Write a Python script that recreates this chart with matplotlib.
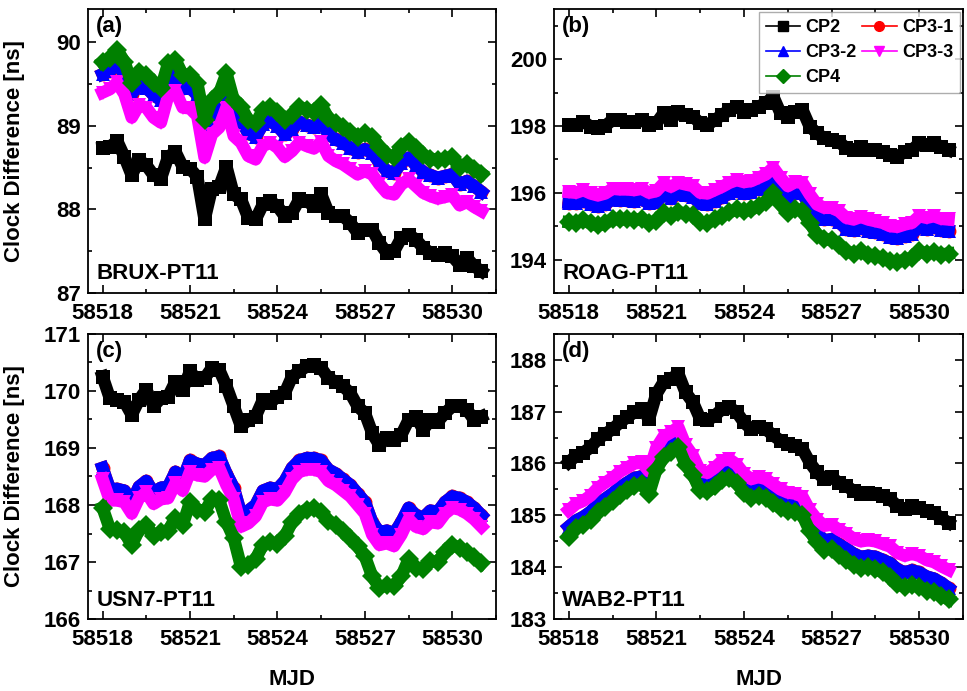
import numpy as np
import matplotlib
matplotlib.use("Agg")
import matplotlib.pyplot as plt
from matplotlib.lines import Line2D
from matplotlib.ticker import MultipleLocator

plt.rcParams['font.family'] = ['Liberation Sans', 'DejaVu Sans']
plt.rcParams['font.weight'] = 'bold'

# sample times, every 6 h
mjd = np.arange(58518, 58531.001, 0.25)

# (a) BRUX-PT11
a_cp2 = [88.74, 88.75, 88.82, 88.63, 88.41, 88.59, 88.53, 88.41, 88.37, 88.63,
         88.69, 88.51, 88.49, 88.39, 87.88, 88.25, 88.27, 88.51, 88.18, 88.12,
         87.90, 87.88, 88.06, 88.10, 88.04, 87.92, 87.96, 88.12, 88.10, 88.04,
         88.18, 87.96, 87.92, 87.92, 87.84, 87.72, 87.76, 87.76, 87.60, 87.48,
         87.50, 87.66, 87.70, 87.64, 87.54, 87.48, 87.46, 87.48, 87.44, 87.34,
         87.42, 87.32, 87.26]
a_cp32 = [89.62, 89.66, 89.74, 89.62, 89.38, 89.50, 89.46, 89.37, 89.31, 89.58,
          89.62, 89.46, 89.46, 89.37, 88.90, 89.16, 89.23, 89.45, 89.15, 89.07,
          88.91, 88.87, 89.02, 89.06, 89.00, 88.90, 88.96, 89.05, 89.01, 88.99,
          89.06, 88.90, 88.84, 88.80, 88.74, 88.69, 88.72, 88.68, 88.56, 88.46,
          88.44, 88.56, 88.62, 88.53, 88.45, 88.41, 88.38, 88.40, 88.42, 88.30,
          88.34, 88.28, 88.21]
a_cp31 = a_cp32  # red trace sits under the blue one everywhere
a_cp33 = [89.40, 89.44, 89.52, 89.38, 89.10, 89.25, 89.22, 89.10, 89.04, 89.36,
          89.42, 89.22, 89.21, 89.12, 88.62, 88.90, 88.98, 89.22, 88.88, 88.80,
          88.64, 88.60, 88.76, 88.80, 88.74, 88.63, 88.70, 88.80, 88.76, 88.73,
          88.81, 88.64, 88.58, 88.54, 88.48, 88.42, 88.46, 88.42, 88.30, 88.20,
          88.18, 88.30, 88.36, 88.28, 88.20, 88.16, 88.13, 88.15, 88.17, 88.05,
          88.09, 88.03, 87.98]
a_cp4 = [89.76, 89.81, 89.91, 89.77, 89.51, 89.65, 89.61, 89.51, 89.45, 89.75,
         89.79, 89.61, 89.61, 89.51, 89.07, 89.31, 89.39, 89.63, 89.31, 89.23,
         89.07, 89.03, 89.19, 89.23, 89.17, 89.07, 89.13, 89.23, 89.19, 89.17,
         89.25, 89.09, 89.03, 88.99, 88.93, 88.87, 88.91, 88.87, 88.75, 88.65,
         88.63, 88.75, 88.81, 88.73, 88.65, 88.61, 88.59, 88.61, 88.63, 88.51,
         88.55, 88.49, 88.43]

# (b) ROAG-PT11
b_cp2 = [198.03, 198.03, 198.13, 197.98, 197.93, 198.00, 198.18, 198.18, 198.13, 198.13,
         198.18, 198.03, 198.08, 198.38, 198.18, 198.43, 198.33, 198.28, 198.08, 198.03,
         198.18, 198.33, 198.48, 198.58, 198.43, 198.48, 198.58, 198.68, 198.88, 198.38,
         198.28, 198.43, 198.48, 197.98, 197.78, 197.63, 197.58, 197.53, 197.33, 197.28,
         197.38, 197.28, 197.28, 197.23, 197.13, 197.08, 197.23, 197.28, 197.48, 197.43,
         197.48, 197.38, 197.28]
b_cp32 = [195.70, 195.68, 195.76, 195.66, 195.60, 195.66, 195.80, 195.78, 195.78, 195.76,
          195.80, 195.68, 195.72, 195.95, 195.85, 195.97, 195.92, 195.87, 195.68, 195.66,
          195.76, 195.86, 195.98, 196.06, 196.00, 196.03, 196.12, 196.22, 196.40, 196.12,
          195.88, 196.00, 195.98, 195.62, 195.32, 195.22, 195.22, 195.12, 194.92, 194.88,
          194.95, 194.87, 194.82, 194.77, 194.67, 194.65, 194.72, 194.78, 194.97, 194.92,
          194.97, 194.90, 194.87]
b_cp31 = b_cp32
b_cp33 = [196.02, 196.00, 196.08, 195.98, 195.92, 195.98, 196.12, 196.10, 196.10, 196.08,
          196.12, 196.00, 196.05, 196.28, 196.18, 196.30, 196.25, 196.20, 196.00, 195.98,
          196.08, 196.18, 196.30, 196.38, 196.32, 196.35, 196.45, 196.55, 196.75, 196.45,
          196.20, 196.32, 196.30, 195.95, 195.65, 195.55, 195.55, 195.45, 195.25, 195.20,
          195.28, 195.20, 195.15, 195.10, 195.00, 194.98, 195.05, 195.10, 195.30, 195.25,
          195.30, 195.22, 195.20]
b_cp4 = [195.12, 195.10, 195.18, 195.08, 195.02, 195.08, 195.22, 195.20, 195.20, 195.18,
         195.22, 195.10, 195.15, 195.40, 195.30, 195.42, 195.37, 195.32, 195.12, 195.10,
         195.20, 195.30, 195.42, 195.50, 195.45, 195.50, 195.60, 195.72, 195.98, 195.65,
         195.40, 195.52, 195.45, 195.10, 194.75, 194.62, 194.58, 194.45, 194.25, 194.18,
         194.25, 194.15, 194.10, 194.05, 193.95, 193.92, 194.00, 194.05, 194.25, 194.18,
         194.22, 194.15, 194.18]

# (c) USN7-PT11
c_cp2 = [170.25, 169.87, 169.84, 169.81, 169.58, 169.84, 170.02, 169.73, 169.87, 169.90,
         170.16, 170.02, 170.34, 170.19, 170.22, 170.40, 170.37, 170.08, 169.73, 169.38,
         169.49, 169.55, 169.84, 169.79, 169.90, 169.96, 170.25, 170.34, 170.43, 170.46,
         170.40, 170.22, 170.16, 170.08, 169.96, 169.73, 169.61, 169.26, 169.05, 169.17,
         169.14, 169.23, 169.49, 169.55, 169.32, 169.49, 169.46, 169.61, 169.73, 169.73,
         169.67, 169.49, 169.55]
c_cp32 = [168.65, 168.28, 168.28, 168.25, 168.05, 168.32, 168.42, 168.22, 168.30, 168.32,
          168.58, 168.45, 168.78, 168.72, 168.70, 168.82, 168.85, 168.55, 168.30, 167.85,
          167.90, 168.00, 168.25, 168.30, 168.28, 168.42, 168.65, 168.78, 168.82, 168.82,
          168.78, 168.62, 168.55, 168.45, 168.35, 168.20, 168.05, 167.70, 167.52, 167.55,
          167.50, 167.70, 167.95, 167.82, 167.78, 167.90, 167.88, 168.05, 168.15, 168.12,
          168.05, 167.95, 167.82]
c_cp31 = c_cp32
c_cp33 = [168.45, 168.08, 168.08, 168.05, 167.85, 168.12, 168.22, 168.02, 168.10, 168.12,
          168.38, 168.25, 168.58, 168.52, 168.50, 168.62, 168.65, 168.35, 168.10, 167.62,
          167.68, 167.80, 168.05, 168.10, 168.08, 168.22, 168.45, 168.58, 168.62, 168.62,
          168.58, 168.42, 168.35, 168.25, 168.15, 168.00, 167.85, 167.48, 167.30, 167.33,
          167.28, 167.48, 167.75, 167.62, 167.58, 167.70, 167.68, 167.85, 167.95, 167.92,
          167.85, 167.75, 167.62]
c_cp4 = [167.95, 167.58, 167.56, 167.52, 167.30, 167.56, 167.65, 167.45, 167.52, 167.54,
         167.78, 167.65, 168.05, 167.92, 167.88, 168.10, 168.08, 167.70, 167.42, 166.92,
         166.95, 167.05, 167.30, 167.35, 167.32, 167.45, 167.70, 167.85, 167.92, 167.94,
         167.88, 167.72, 167.65, 167.54, 167.42, 167.28, 167.10, 166.75, 166.55, 166.60,
         166.58, 166.75, 167.05, 166.90, 166.88, 167.02, 167.00, 167.18, 167.30, 167.25,
         167.18, 167.08, 166.98]

# (d) WAB2-PT11
d_cp2 = [186.02, 186.15, 186.21, 186.31, 186.47, 186.57, 186.66, 186.79, 186.89, 186.99,
         187.05, 186.86, 187.34, 187.57, 187.63, 187.73, 187.37, 187.18, 186.86, 186.83,
         186.92, 187.05, 187.08, 186.99, 186.79, 186.66, 186.70, 186.66, 186.54, 186.44,
         186.37, 186.34, 186.28, 186.02, 185.83, 185.70, 185.73, 185.63, 185.57, 185.47,
         185.41, 185.44, 185.41, 185.37, 185.31, 185.18, 185.12, 185.18, 185.15, 185.08,
         185.05, 184.95, 184.86]
d_cp32 = [184.78, 184.90, 184.97, 185.07, 185.22, 185.32, 185.42, 185.54, 185.63, 185.72,
          185.75, 185.58, 186.02, 186.26, 186.35, 186.45, 186.12, 185.92, 185.62, 185.60,
          185.70, 185.82, 185.85, 185.76, 185.58, 185.48, 185.52, 185.48, 185.38, 185.28,
          185.22, 185.20, 185.14, 184.85, 184.65, 184.52, 184.54, 184.44, 184.36, 184.26,
          184.20, 184.22, 184.20, 184.14, 184.08, 183.96, 183.90, 183.94, 183.90, 183.82,
          183.78, 183.70, 183.60]
d_cp31 = d_cp32
d_cp33 = [185.10, 185.22, 185.28, 185.38, 185.53, 185.63, 185.72, 185.84, 185.92, 186.00,
          186.02, 185.85, 186.30, 186.52, 186.60, 186.70, 186.35, 186.15, 185.85, 185.82,
          185.92, 186.05, 186.08, 185.98, 185.80, 185.70, 185.74, 185.70, 185.60, 185.50,
          185.44, 185.42, 185.36, 185.10, 184.92, 184.80, 184.82, 184.72, 184.65, 184.55,
          184.50, 184.52, 184.50, 184.45, 184.40, 184.28, 184.22, 184.26, 184.22, 184.14,
          184.10, 184.02, 183.95]
d_cp4 = [184.58, 184.75, 184.82, 184.92, 185.07, 185.17, 185.27, 185.39, 185.48, 185.57,
         185.60, 185.42, 185.88, 186.12, 186.22, 186.32, 185.98, 185.78, 185.48, 185.46,
         185.56, 185.68, 185.72, 185.62, 185.44, 185.34, 185.38, 185.34, 185.24, 185.14,
         185.08, 185.06, 185.00, 184.70, 184.48, 184.34, 184.36, 184.24, 184.14, 184.04,
         183.98, 184.00, 183.97, 183.90, 183.82, 183.68, 183.62, 183.66, 183.62, 183.55,
         183.52, 183.45, 183.38]

names = ['CP2', 'CP3-1', 'CP3-2', 'CP3-3', 'CP4']
colors = ['black', 'red', 'blue', 'magenta', 'green']
markers = ['s', 'o', '^', 'v', 'D']

panels = [
    ('(a)', 'BRUX-PT11', [a_cp2, a_cp31, a_cp32, a_cp33, a_cp4], (87, 90.4), 1, 0.5),
    ('(b)', 'ROAG-PT11', [b_cp2, b_cp31, b_cp32, b_cp33, b_cp4], (193, 201.5), 2, 1),
    ('(c)', 'USN7-PT11', [c_cp2, c_cp31, c_cp32, c_cp33, c_cp4], (166, 171), 1, 0.5),
    ('(d)', 'WAB2-PT11', [d_cp2, d_cp31, d_cp32, d_cp33, d_cp4], (183, 188.5), 1, 0.5),
]

fig = plt.figure(figsize=(9.67, 6.91), dpi=100)
boxes = [[0.091, 0.576, 0.422, 0.411], [0.573, 0.576, 0.423, 0.411],
         [0.091, 0.104, 0.422, 0.413], [0.573, 0.104, 0.423, 0.413]]

for i, (tag, site, series, ylim, major, minor) in enumerate(panels):
    ax = fig.add_axes(boxes[i])
    for s, c, m in zip(series, colors, markers):
        ax.plot(mjd, s, color=c, lw=9, marker=m, ms=10, mew=0)
    ax.set_xlim(58517.5, 58531.5)
    ax.set_ylim(*ylim)
    ax.xaxis.set_major_locator(MultipleLocator(3))
    ax.xaxis.set_minor_locator(MultipleLocator(1.5))
    ax.yaxis.set_major_locator(MultipleLocator(major))
    ax.yaxis.set_minor_locator(MultipleLocator(minor))
    ax.tick_params(which='both', direction='in', top=True, right=True, width=1.2)
    ax.tick_params(which='major', length=6, labelsize=16, pad=5)
    ax.tick_params(axis='x', which='major', pad=7)
    ax.tick_params(which='minor', length=3)
    for sp in ax.spines.values():
        sp.set_linewidth(1.3)
    ax.text(0.02, 0.975, tag, transform=ax.transAxes, fontsize=16,
            fontweight='bold', va='top', ha='left')
    ax.text(0.02, 0.03, site, transform=ax.transAxes, fontsize=16,
            fontweight='bold', va='bottom', ha='left')
    if i % 2 == 0:
        ax.set_ylabel('Clock Difference [ns]', fontsize=16, fontweight='bold')
        ax.yaxis.set_label_coords(-0.155, 0.5)
    if i >= 2:
        ax.set_xlabel('MJD', fontsize=16, fontweight='bold')
        ax.xaxis.set_label_coords(0.5, -0.175)
    if i == 1:
        handles = [Line2D([], [], color=c, marker=m, ms=7, lw=1.2)
                   for c, m in zip(colors, markers)]
        order = [0, 2, 4, 1, 3]
        leg = ax.legend([handles[k] for k in order], [names[k] for k in order],
                        ncol=2, loc='upper right', fontsize=13, frameon=True,
                        fancybox=False, borderaxespad=0.15, handlelength=1.9,
                        handletextpad=0.3, columnspacing=0.3, labelspacing=0.45,
                        borderpad=0.4)
        leg.get_frame().set_edgecolor('#999999')
        leg.get_frame().set_linewidth(1.0)

fig.savefig('out.png', dpi=100)
